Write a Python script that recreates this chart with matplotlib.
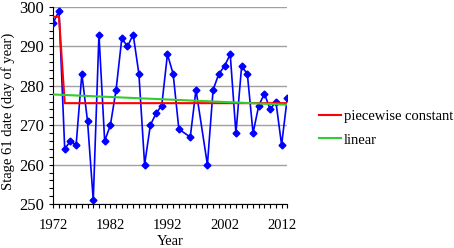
import numpy as np
import matplotlib.pyplot as plt

plt.rcParams['font.family'] = ['Liberation Serif', 'DejaVu Serif']

# observed stage 61 dates (1995 and 1998 missing)
years = [1972, 1973, 1974, 1975, 1976, 1977, 1978, 1979, 1980, 1981,
         1982, 1983, 1984, 1985, 1986, 1987, 1988, 1989, 1990, 1991,
         1992, 1993, 1994, 1996, 1997, 1999, 2000, 2001, 2002, 2003,
         2004, 2005, 2006, 2007, 2008, 2009, 2010, 2011, 2012, 2013]
doy = [296, 299, 264, 266, 265, 283, 271, 251, 293, 266,
       270, 279, 292, 290, 293, 283, 260, 270, 273, 275,
       288, 283, 269, 267, 279, 260, 279, 283, 285, 288,
       268, 285, 283, 268, 275, 278, 274, 276, 265, 277]

# piecewise constant fit
pw_years = [1972, 1973, 1974, 2013]
pw_vals = [297.5, 297.5, 275.6, 275.6]

# linear fit
lin_years = [1972, 2013]
lin_vals = [277.8, 275.2]

fig = plt.figure(figsize=(4.54, 2.48), dpi=100)
ax = fig.add_axes([0.1174, 0.177, 0.5154, 0.795])

ax.plot(years, doy, color='#0000ff', lw=1.2, marker='D', ms=3.5, zorder=3)
ax.plot(pw_years, pw_vals, color='#ff0000', lw=1.5, label='piecewise constant', zorder=4)
ax.plot(lin_years, lin_vals, color='#33cc33', lw=1.5, label='linear', zorder=4)

ax.set_xlim(1972, 2013)
ax.set_ylim(250, 300)
ax.set_xticks([1972, 1982, 1992, 2002, 2012])
ax.set_xticks(np.arange(1972, 2014), minor=True)
ax.set_yticks([250, 260, 270, 280, 290, 300])
ax.set_yticks(np.arange(250, 301, 2), minor=True)
ax.yaxis.grid(True, color='#a0a0a0', lw=1)
ax.set_axisbelow(True)
for s in ['top', 'right']:
    ax.spines[s].set_visible(False)
ax.tick_params(axis='both', which='both', direction='out', length=3, width=0.8)
ax.tick_params(axis='y', labelsize=12)
ax.tick_params(axis='x', labelsize=10.5, pad=8)

ax.set_xlabel('Year', fontsize=10.5, labelpad=2)
ax.set_ylabel('Stage 61 date (day of year)', fontsize=10.5)
ax.yaxis.set_label_coords(-0.165, 0.47)

ax.legend(loc='center left', bbox_to_anchor=(1.08, 0.385), frameon=False,
          fontsize=10.5, handlelength=1.5, handletextpad=0.2, labelspacing=0.7)

fig.savefig('out.png', dpi=100)
